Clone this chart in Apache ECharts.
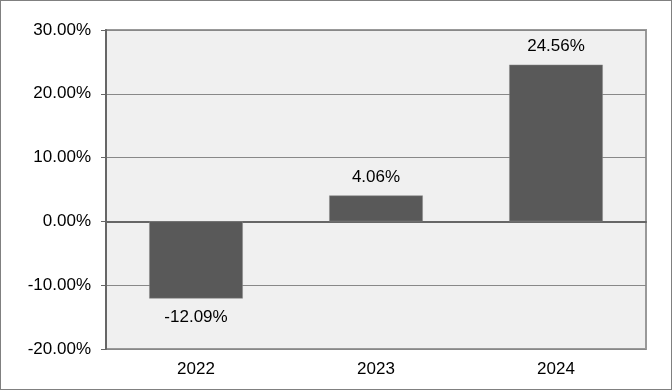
<!DOCTYPE html>
<html><head><meta charset="utf-8">
<script src="https://cdn.jsdelivr.net/npm/echarts@6/dist/echarts.min.js"></script>
<style>html,body{margin:0;padding:0;background:#fff}#c{width:672px;height:390px;box-sizing:border-box;border:1px solid #808080}</style>
</head><body><div id="c"></div>
<script>
const categories = ['2022', '2023', '2024'];
const returns = [-12.09, 4.06, 24.56];
const yTicks = { min: -20, max: 30, interval: 10 };

const font = 'Arial, Liberation Sans, sans-serif';
const chart = echarts.init(document.getElementById('c'));
chart.setOption({
  animation: false,
  grid: { left: 105, right: 25, top: 29, bottom: 40, show: true, backgroundColor: '#f0f0f0', borderColor: '#999', borderWidth: 2 },
  xAxis: {
    type: 'category', data: categories,
    axisLine: { lineStyle: { color: '#666', width: 2 } },
    axisTick: { show: false },
    axisLabel: { color: '#000', fontSize: 17, fontFamily: font, margin: 12 }
  },
  yAxis: {
    type: 'value', min: yTicks.min, max: yTicks.max, interval: yTicks.interval,
    axisLine: { show: true, lineStyle: { color: '#666', width: 2 } },
    axisTick: { show: true, length: 5, lineStyle: { color: '#666' } },
    splitLine: { lineStyle: { color: '#888', width: 1 } },
    axisLabel: { color: '#000', fontSize: 17, fontFamily: font, margin: 15,
      formatter: v => v.toFixed(2) + '%' }
  },
  series: [{
    type: 'bar', barWidth: '52%',
    data: returns.map(v => v < 0 ? { value: v, label: { position: 'bottom' } } : v),
    itemStyle: { color: '#595959', borderColor: '#8a8a8a', borderWidth: 0.5 },
    label: { show: true, color: '#000', fontSize: 17, fontFamily: font, distance: 10,
      position: 'top',
      formatter: p => p.value.toFixed(2) + '%' }
  }]
});
</script></body></html>
